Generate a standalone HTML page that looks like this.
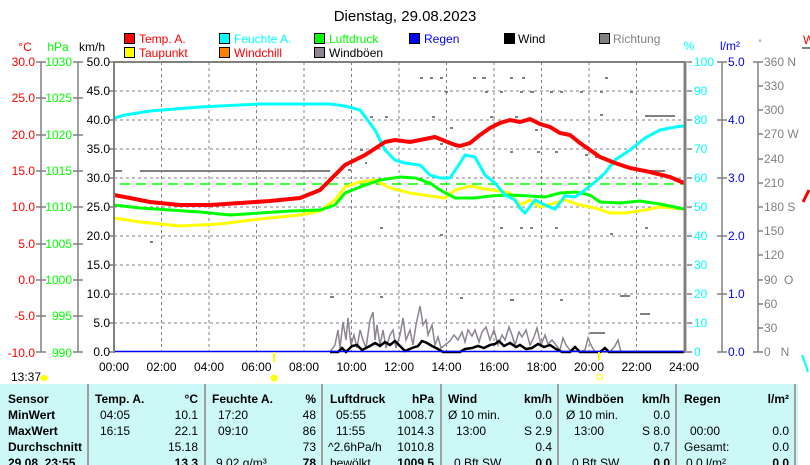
<!DOCTYPE html>
<html><head><meta charset="utf-8"><style>
body{margin:0;background:#fff;width:810px;height:465px;overflow:hidden;font-family:"Liberation Sans",sans-serif}
svg{position:absolute;left:0;top:0}
</style></head><body>
<svg width="810" height="465" viewBox="0 0 810 465" font-family="Liberation Sans, sans-serif" font-size="12">
<text x="405" y="21" font-size="15" text-anchor="middle">Dienstag, 29.08.2023</text>
<!-- legend -->
<g font-size="12">
<rect x="124.5" y="33.5" width="10" height="10" fill="#f00" stroke="#000"/><text x="139" y="43" fill="#f00">Temp. A.</text>
<rect x="124.5" y="47.5" width="10" height="10" fill="#ff0" stroke="#000"/><text x="139" y="57" fill="#f00">Taupunkt</text>
<rect x="219.5" y="33.5" width="10" height="10" fill="#0ff" stroke="#000"/><text x="234" y="43" fill="#0ff">Feuchte A.</text>
<rect x="219.5" y="47.5" width="10" height="10" fill="#ff8000" stroke="#000"/><text x="234" y="57" fill="#f00">Windchill</text>
<rect x="314.5" y="33.5" width="10" height="10" fill="#0f0" stroke="#000"/><text x="329" y="43" fill="#0f0">Luftdruck</text>
<rect x="314.5" y="47.5" width="10" height="10" fill="#8c8490" stroke="#000"/><text x="329" y="57" fill="#000">Windböen</text>
<rect x="409.5" y="33.5" width="10" height="10" fill="#00f" stroke="#000"/><text x="424" y="43" fill="#00f">Regen</text>
<rect x="504.5" y="33.5" width="10" height="10" fill="#000" stroke="#000"/><text x="518" y="43" fill="#000">Wind</text>
<rect x="599.5" y="33.5" width="10" height="10" fill="#808080" stroke="#000"/><text x="613" y="43" fill="#808080">Richtung</text>
</g>
<text x="25" y="51" fill="#f00" text-anchor="middle">°C</text>
<text x="58" y="51" fill="#0f0" text-anchor="middle">hPa</text>
<text x="92" y="51" fill="#000" text-anchor="middle">km/h</text>
<text x="689" y="50" fill="#0ff" text-anchor="middle">%</text>
<text x="730" y="50" fill="#00f" text-anchor="middle">l/m²</text>
<text x="760" y="46" fill="#808080" text-anchor="middle" font-size="9">°</text>
<text x="803" y="44" fill="#f00">W</text>
<line x1="802" y1="48" x2="810" y2="48" stroke="#808080" stroke-width="2"/>
<!-- left axes -->
<g stroke="#808080" stroke-width="1.5">
<line x1="41" y1="62" x2="41" y2="352"/><line x1="78" y1="62" x2="78" y2="352"/>
</g>
<g fill="#f00" text-anchor="end" font-size="12">
<text x="35" y="66">30.0</text><text x="35" y="102">25.0</text><text x="35" y="139">20.0</text><text x="35" y="175">15.0</text><text x="35" y="211">10.0</text><text x="35" y="248">5.0</text><text x="35" y="284">0.0</text><text x="35" y="320">-5.0</text><text x="35" y="357">-10.0</text>
</g>
<g fill="#0f0" text-anchor="end" font-size="12">
<text x="72" y="66">1030</text><text x="72" y="102">1025</text><text x="72" y="139">1020</text><text x="72" y="175">1015</text><text x="72" y="211">1010</text><text x="72" y="248">1005</text><text x="72" y="284">1000</text><text x="72" y="320">995</text><text x="72" y="357">990</text>
</g>
<g stroke="#808080" stroke-width="1.5">
<path d="M36 62H46M36 98H46M36 135H46M36 171H46M36 207H46M36 244H46M36 280H46M36 316H46M36 352H46"/>
<path d="M73 62H83M73 98H83M73 135H83M73 171H83M73 207H83M73 244H83M73 280H83M73 316H83M73 352H83"/>
<path d="M109 62H114M109 91H114M109 120H114M109 149H114M109 178H114M109 207H114M109 236H114M109 265H114M109 294H114M109 323H114M109 352H114"/>
</g>
<g fill="#000" text-anchor="end" font-size="12">
<text x="110" y="66">50.0</text><text x="110" y="95">45.0</text><text x="110" y="124">40.0</text><text x="110" y="153">35.0</text><text x="110" y="182">30.0</text><text x="110" y="211">25.0</text><text x="110" y="240">20.0</text><text x="110" y="269">15.0</text><text x="110" y="298">10.0</text><text x="110" y="327">5.0</text><text x="110" y="356">0.0</text>
</g>
<!-- grid -->
<g stroke="#808080" stroke-width="1" stroke-dasharray="3,3">
<path d="M114 91H684M114 120H684M114 149H684M114 178H684M114 207H684M114 236H684M114 265H684M114 294H684M114 323H684"/>
<path d="M161.5 62V352M209 62V352M256.5 62V352M304 62V352M351.5 62V352M399 62V352M446.5 62V352M494 62V352M541.5 62V352M589 62V352M636.5 62V352"/>
</g>
<!-- direction dots -->
<g stroke="#808080" stroke-width="2">
<path d="M420 78h3M430 78h3M440 78h3M473 78h3M482 78h4M510 78h3M522 78h3M605 78h3M445 92h3M485 92h3M500 92h3M520 92h3M530 92h4M550 92h3M560 92h3M580 92h3M600 92h3M630 92h3M645 116h30M432 117h3M490 117h3M515 117h3M600 115h3M370 117h3M385 117h3M360 150h3M450 128h3M510 152h3M537 152h3M555 152h3M585 155h3M595 157h3M140 171h190M114 171h8M645 171h20M348 170h3M440 144h3M535 130h3M380 228h3M520 228h3M530 228h3M555 228h3M500 228h3M150 242h3M610 234h3M645 228h3M330 297h4M380 297h3M460 298h3M510 300h4M560 300h3M620 296h10M590 333h15M640 314h10M440 235h3M365 163h2"/>
</g>
<!-- gusts -->
<polyline fill="none" stroke="#8c8490" stroke-width="1.5" points="330,352 335,345 338,330 340,348 343,322 346,340 348,318 351,345 354,335 357,348 360,330 363,340 366,348 370,320 373,312 375,340 377,325 380,345 383,330 386,348 390,335 393,330 396,348 400,335 403,318 406,340 410,330 413,345 416,325 420,306 423,325 426,320 428,335 432,325 435,345 438,337 441,348 445,345 450,341 454,335 458,340 462,332 465,342 468,330 472,336 475,330 479,342 482,332 486,327 490,340 494,330 498,345 502,335 505,340 509,327 512,335 515,345 519,332 522,337 526,330 530,345 534,337 537,328 541,345 545,335 548,344 552,340 556,345 560,350 563,338 566,345 570,350 580,352 585,350 588,338 591,345 595,352 610,352 615,346 618,340 621,352 684,352"/>
<!-- wind -->
<polyline fill="none" stroke="#000" stroke-width="2.5" points="330,352 338,352 342,348 346,352 352,346 357,345 362,350 370,346 375,343 380,346 385,342 390,345 395,341 400,346 405,351 412,348 418,346 422,341 427,343 432,346 438,349 443,352 460,352 465,349 472,348 478,346 484,348 490,345 495,344 499,341 504,346 510,343 516,347 520,345 526,349 532,348 538,344 544,347 550,345 556,349 562,352 570,352 575,347 580,352 600,352 605,348 609,352 612,352 684,352"/>
<!-- rain -->
<line x1="114" y1="351.5" x2="684" y2="351.5" stroke="#00f" stroke-width="1.5"/>
<!-- pressure dashed ref -->
<line x1="120" y1="184" x2="684" y2="184" stroke="#0f0" stroke-width="1.5" stroke-dasharray="10,6"/>
<!-- series -->
<polyline fill="none" stroke="#ff0" stroke-width="3" points="114,218 140,222 180,226 220,224 260,219 300,215 320,211 335,200 345,187 360,182 375,180 390,188 410,193 430,196 445,198 455,190 470,186 485,189 500,191 510,193 520,205 530,200 540,207 555,203 565,200 580,205 595,208 610,213 625,213 640,211 660,207 684,209"/>
<polyline fill="none" stroke="#0f0" stroke-width="3" points="114,205 140,208 170,210 200,212 230,215 260,213 290,211 320,210 335,205 345,193 360,187 380,180 400,177 415,178 430,183 440,190 455,198 475,198 490,196 510,195 530,196 545,197 560,193 575,192 590,195 600,202 620,203 640,201 660,204 684,209"/>
<polyline fill="none" stroke="#0ff" stroke-width="3" points="114,118 125,115 150,111 200,107 260,104 330,104 345,106 360,110 375,130 385,150 395,160 405,163 420,165 430,175 440,178 450,178 460,163 465,155 475,157 485,175 495,183 505,195 515,200 520,208 525,213 535,200 545,205 555,209 565,196 575,197 585,190 595,182 605,173 615,160 630,150 645,138 660,130 675,127 684,126"/>
<polyline fill="none" stroke="#f00" stroke-width="4" points="114,195 130,198 150,202 180,205 210,205 240,203 270,201 300,198 320,190 330,180 345,165 365,155 385,142 395,140 410,142 420,140 435,137 445,141 455,145 460,146 470,143 480,135 490,128 500,123 510,120 520,122 530,119 540,124 550,127 560,133 570,135 580,143 590,150 600,157 615,163 630,168 650,172 670,177 684,183"/>
<!-- frame -->
<g stroke="#808080">
<line x1="114" y1="62" x2="684" y2="62" stroke-width="2"/>
<line x1="114" y1="61" x2="114" y2="353" stroke-width="2"/>
<line x1="685" y1="61" x2="685" y2="353" stroke-width="3"/>
</g>
<!-- right axes -->
<g stroke="#808080" stroke-width="1.5">
<path d="M687 62H692M687 91H692M687 120H692M687 149H692M687 178H692M687 207H692M687 236H692M687 265H692M687 294H692M687 323H692M687 352H692"/>
<line x1="722" y1="62" x2="722" y2="352"/><path d="M717 62H727M717 120H727M717 178H727M717 236H727M717 294H727M717 352H727"/>
<line x1="758" y1="62" x2="758" y2="352"/><path d="M753 62H763M758 86H763M758 110H763M758 134H763M758 159H763M758 183H763M758 207H763M758 231H763M758 255H763M758 280H763M758 304H763M758 328H763M753 352H763"/>
</g>
<g fill="#0ff" font-size="12">
<text x="694" y="66">100</text><text x="694" y="95">90</text><text x="694" y="124">80</text><text x="694" y="153">70</text><text x="694" y="182">60</text><text x="694" y="211">50</text><text x="694" y="240">40</text><text x="694" y="269">30</text><text x="694" y="298">20</text><text x="694" y="327">10</text><text x="694" y="356">0</text>
</g>
<g fill="#00f" font-size="12">
<text x="728" y="66">5.0</text><text x="728" y="124">4.0</text><text x="728" y="182">3.0</text><text x="728" y="240">2.0</text><text x="728" y="298">1.0</text><text x="728" y="356">0.0</text>
</g>
<g fill="#808080" font-size="12">
<text x="764" y="66">360 N</text><text x="764" y="90">330</text><text x="764" y="114">300</text><text x="764" y="138">270 W</text><text x="764" y="163">240</text><text x="764" y="187">210</text><text x="764" y="211">180 S</text><text x="764" y="235">150</text><text x="764" y="259">120</text><text x="764" y="284">90 &#160;O</text><text x="764" y="308">60</text><text x="764" y="332">30</text><text x="764" y="356">0 &#160;&#160;N</text>
</g>
<path d="M803 202 L809 190" stroke="#f00" stroke-width="3"/>
<path d="M802 355 Q806 365 808 372" stroke="#0ff" stroke-width="2" fill="none"/>
<!-- x labels -->
<g fill="#000" font-size="12" text-anchor="middle">
<text x="114" y="371">00:00</text><text x="161.5" y="371">02:00</text><text x="209" y="371">04:00</text><text x="256.5" y="371">06:00</text><text x="304" y="371">08:00</text><text x="351.5" y="371">10:00</text><text x="399" y="371">12:00</text><text x="446.5" y="371">14:00</text><text x="494" y="371">16:00</text><text x="541.5" y="371">18:00</text><text x="589" y="371">20:00</text><text x="636.5" y="371">22:00</text><text x="684" y="371">24:00</text>
</g>
<text x="11" y="381" font-size="12">13:37</text>
<ellipse cx="44" cy="378" rx="4" ry="3" fill="#ff0"/>
<line x1="274" y1="352" x2="274" y2="362" stroke="#ff0" stroke-width="2"/>
<circle cx="274" cy="378" r="3.5" fill="#ff0"/>
<line x1="599" y1="352" x2="599" y2="360" stroke="#ff0" stroke-width="2"/>
<rect x="597" y="375" width="5" height="4" fill="none" stroke="#ff0"/>
<!-- table -->
<rect x="0" y="384" width="798" height="81" fill="#ccf8f8"/>
<g stroke="#a0a0a0" stroke-width="2">
<line x1="88" y1="384" x2="88" y2="465"/><line x1="205" y1="384" x2="205" y2="465"/><line x1="322" y1="384" x2="322" y2="465"/><line x1="441" y1="384" x2="441" y2="465"/><line x1="558" y1="384" x2="558" y2="465"/><line x1="676" y1="384" x2="676" y2="465"/><line x1="795" y1="384" x2="795" y2="465"/>
</g>
<g font-size="12" fill="#000">
<g font-weight="bold">
<text x="8" y="403">Sensor</text><text x="8" y="419">MinWert</text><text x="8" y="435">MaxWert</text><text x="8" y="451">Durchschnitt</text><text x="8" y="467">29.08. 23:55</text>
<text x="95" y="403">Temp. A.</text><text x="198" y="403" text-anchor="end">°C</text>
<text x="212" y="403">Feuchte A.</text><text x="316" y="403" text-anchor="end">%</text>
<text x="330" y="403">Luftdruck</text><text x="434" y="403" text-anchor="end">hPa</text>
<text x="448" y="403">Wind</text><text x="552" y="403" text-anchor="end">km/h</text>
<text x="566" y="403">Windböen</text><text x="670" y="403" text-anchor="end">km/h</text>
<text x="684" y="403">Regen</text><text x="789" y="403" text-anchor="end">l/m²</text>
<text x="198" y="467" text-anchor="end">13.3</text><text x="316" y="467" text-anchor="end">78</text><text x="434" y="467" text-anchor="end">1009.5</text><text x="552" y="467" text-anchor="end">0.0</text><text x="670" y="467" text-anchor="end">0.0</text><text x="789" y="467" text-anchor="end">0.0</text>
</g>
<text x="100" y="419">04:05</text><text x="198" y="419" text-anchor="end">10.1</text>
<text x="100" y="435">16:15</text><text x="198" y="435" text-anchor="end">22.1</text>
<text x="198" y="451" text-anchor="end">15.18</text>
<text x="218" y="419">17:20</text><text x="316" y="419" text-anchor="end">48</text>
<text x="218" y="435">09:10</text><text x="316" y="435" text-anchor="end">86</text>
<text x="316" y="451" text-anchor="end">73</text><text x="216" y="467">9.02 g/m³</text>
<text x="336" y="419">05:55</text><text x="434" y="419" text-anchor="end">1008.7</text>
<text x="336" y="435">11:55</text><text x="434" y="435" text-anchor="end">1014.3</text>
<text x="328" y="451">^2.6hPa/h</text><text x="434" y="451" text-anchor="end">1010.8</text><text x="330" y="467">bewölkt</text>
<text x="448" y="419">Ø 10 min.</text><text x="552" y="419" text-anchor="end">0.0</text>
<text x="456" y="435">13:00</text><text x="552" y="435" text-anchor="end">S 2.9</text>
<text x="552" y="451" text-anchor="end">0.4</text><text x="454" y="467">0 Bft SW</text>
<text x="566" y="419">Ø 10 min.</text><text x="670" y="419" text-anchor="end">0.0</text>
<text x="574" y="435">13:00</text><text x="670" y="435" text-anchor="end">S 8.0</text>
<text x="670" y="451" text-anchor="end">0.7</text><text x="572" y="467">0 Bft SW</text>
<text x="690" y="435">00:00</text><text x="789" y="435" text-anchor="end">0.0</text>
<text x="684" y="451">Gesamt:</text><text x="789" y="451" text-anchor="end">0.0</text><text x="686" y="467">0.0 l/m²</text>
</g>
</svg>
</body></html>
